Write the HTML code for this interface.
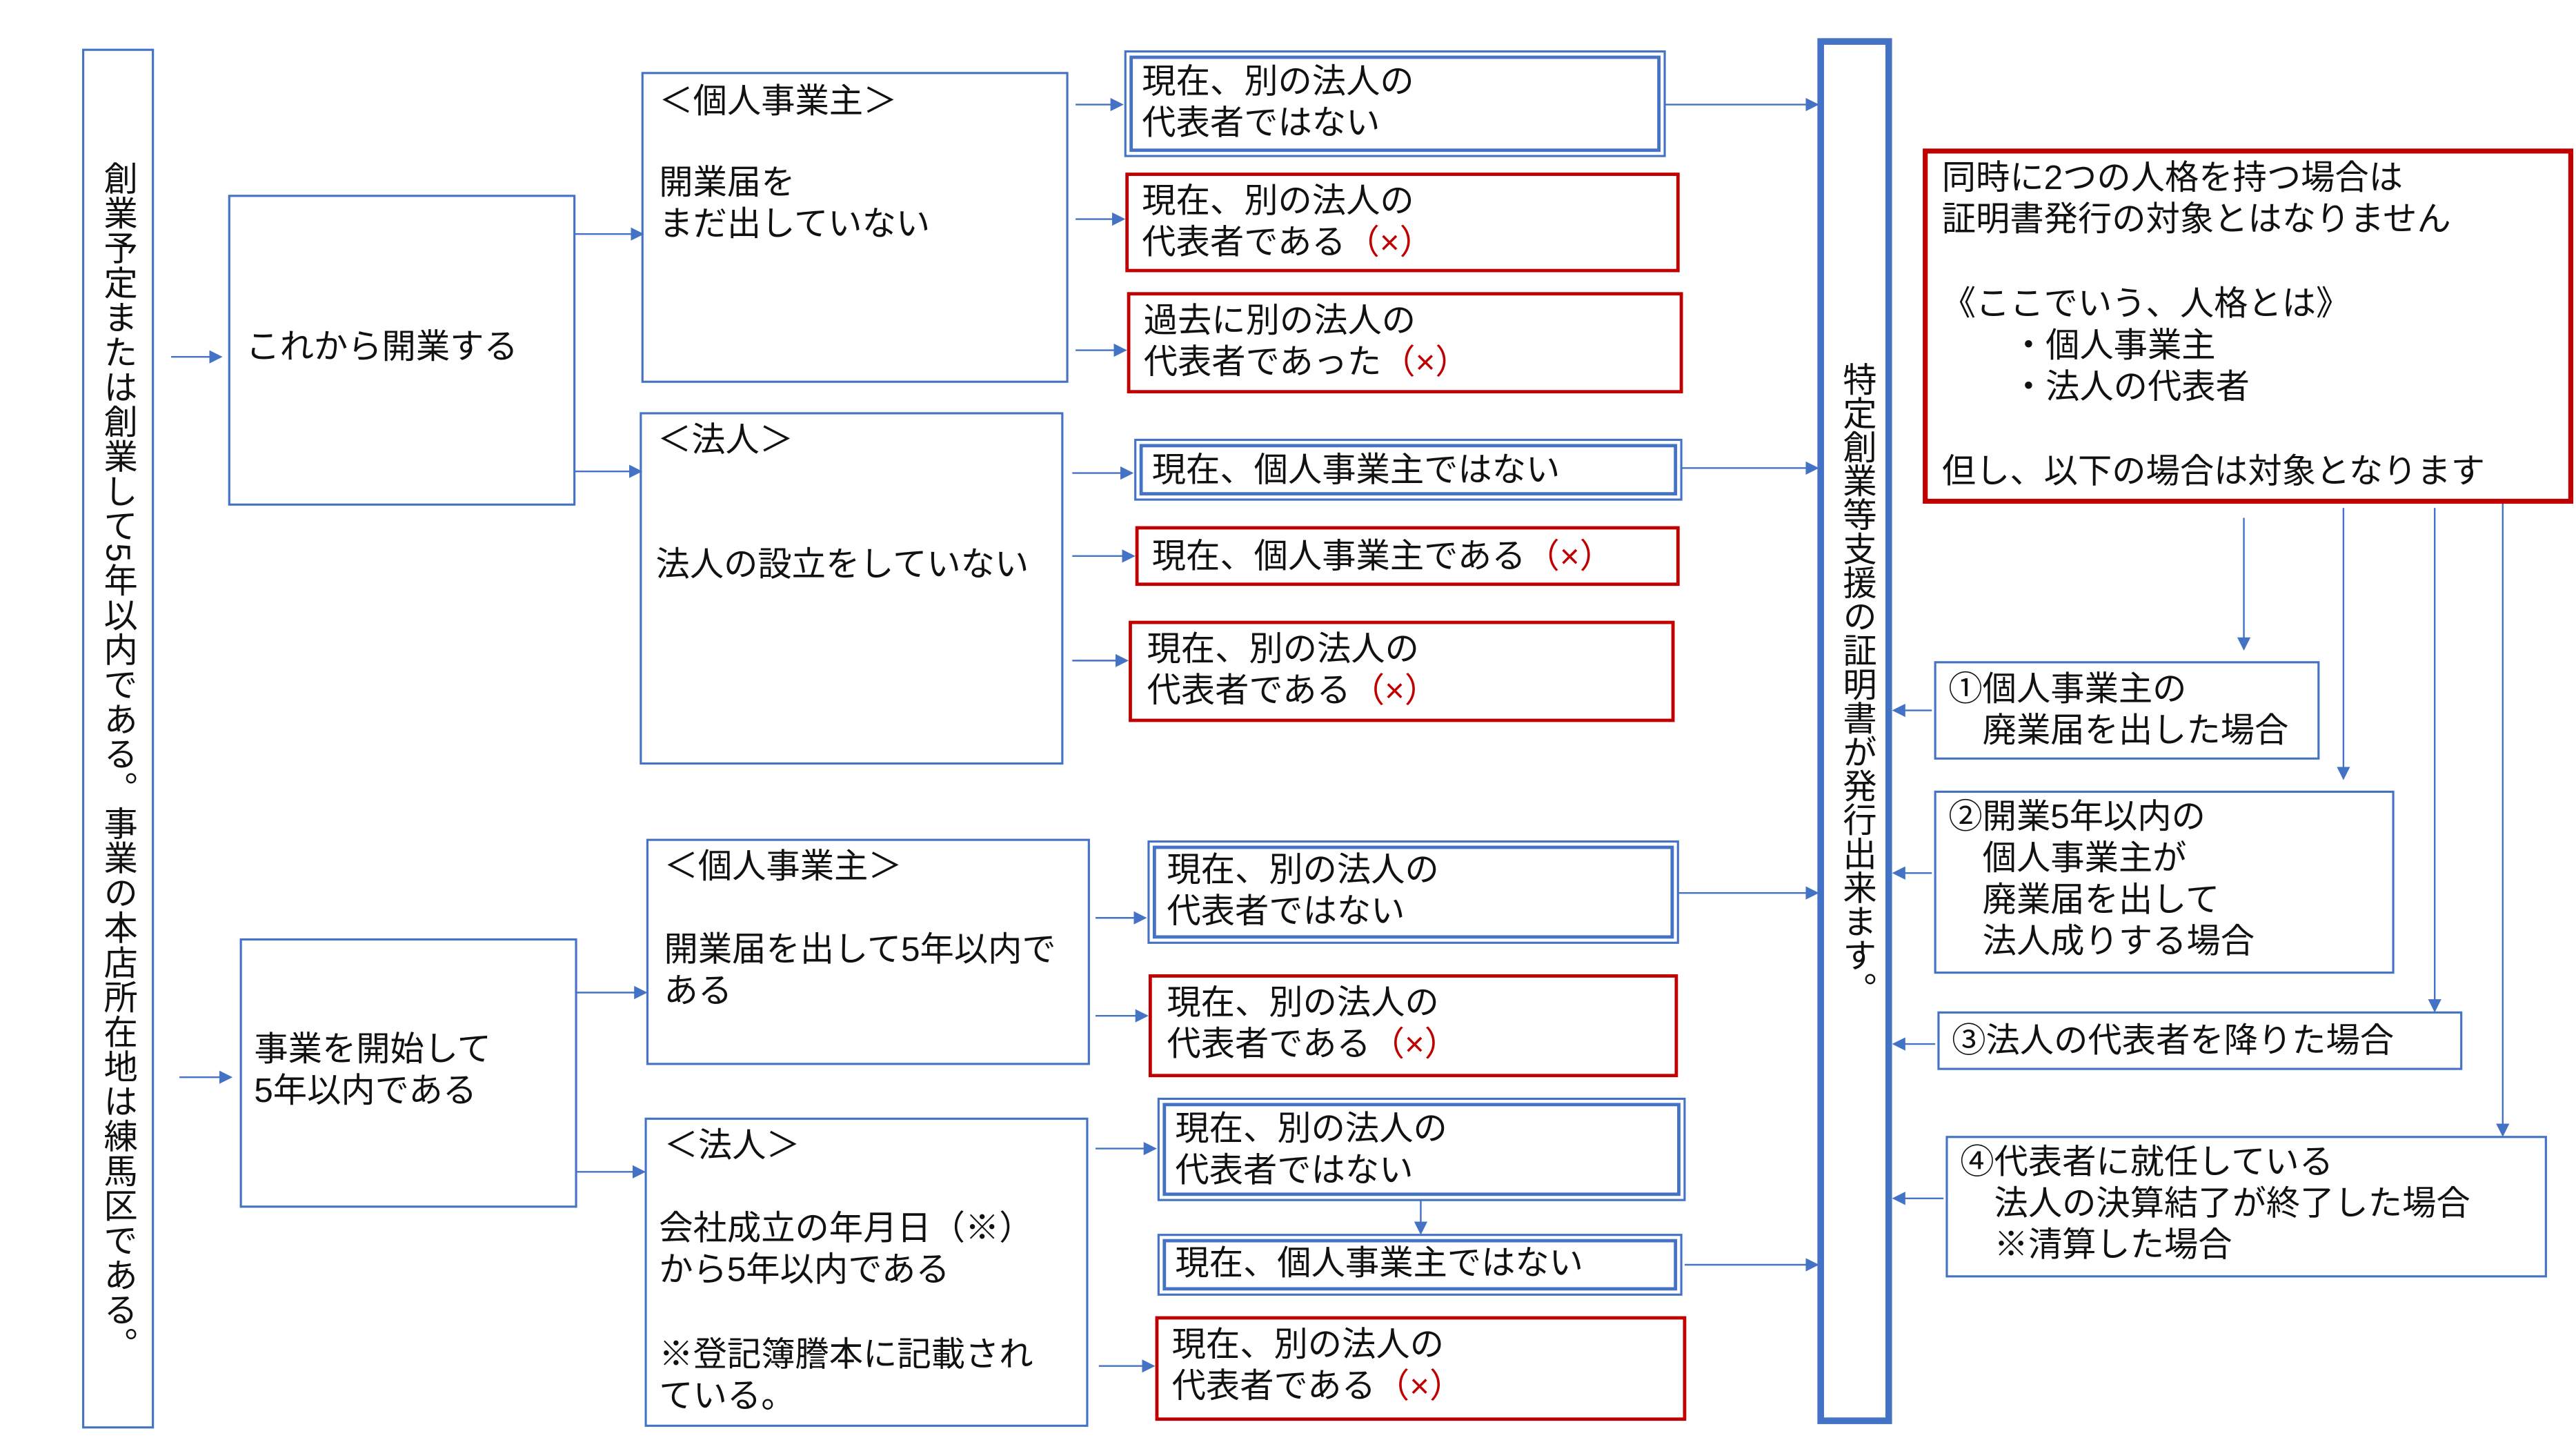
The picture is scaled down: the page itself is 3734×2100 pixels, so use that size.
<!DOCTYPE html>
<html><head><meta charset="utf-8"><style>
html,body{margin:0;padding:0;background:#fff;}
svg{display:block;}
text{font-family:"Liberation Sans","Noto Sans CJK JP",sans-serif;font-size:20.5px;fill:#111;dominant-baseline:central;}
.r{fill:#C00000;}
</style></head><body>
<svg width="3734" height="2100" viewBox="0 0 1552 873" xmlns="http://www.w3.org/2000/svg">
<defs>
<marker id="a" markerWidth="8" markerHeight="8" refX="7" refY="4" orient="auto" markerUnits="userSpaceOnUse"><path d="M0,0 L8,4 L0,8 z" fill="#4472C4"/></marker>
</defs>
<g fill="none" stroke="#4472C4" stroke-width="1.3">
<rect x="50" y="30" width="42" height="830"/>
<rect x="138" y="118" width="208" height="186"/>
<rect x="387" y="44" width="256" height="186"/>
<rect x="386" y="249" width="254" height="211"/>
<rect x="145" y="566" width="202" height="161"/>
<rect x="390" y="506" width="266" height="135"/>
<rect x="389" y="674" width="266" height="185"/>
<rect x="1166" y="399" width="231" height="58"/>
<rect x="1166" y="477" width="276" height="109"/>
<rect x="1168" y="610" width="315" height="34"/>
<rect x="1173" y="685" width="361" height="84"/>
<rect x="678" y="31" width="325" height="63"/><rect x="681.5" y="34.5" width="318" height="56" stroke-width="2"/>
<rect x="684" y="265" width="329" height="36"/><rect x="687.5" y="268.5" width="322" height="29" stroke-width="2"/>
<rect x="692" y="507" width="319" height="61"/><rect x="695.5" y="510.5" width="312" height="54" stroke-width="2"/>
<rect x="698" y="662" width="317" height="61"/><rect x="701.5" y="665.5" width="310" height="54" stroke-width="2"/>
<rect x="698" y="744" width="315" height="36"/><rect x="701.5" y="747.5" width="308" height="29" stroke-width="2"/>
<rect x="1097" y="25" width="41" height="831" stroke-width="4"/>
<g marker-end="url(#a)" stroke-width="1">
<line x1="103" y1="215" x2="133" y2="215"/>
<line x1="346" y1="141" x2="387" y2="141"/>
<line x1="346" y1="284" x2="386" y2="284"/>
<line x1="648" y1="63" x2="676" y2="63"/>
<line x1="648" y1="132" x2="677" y2="132"/>
<line x1="648" y1="211" x2="678" y2="211"/>
<line x1="646" y1="285" x2="682" y2="285"/>
<line x1="646" y1="335" x2="683" y2="335"/>
<line x1="646" y1="398" x2="679" y2="398"/>
<line x1="1003" y1="63" x2="1095" y2="63"/>
<line x1="1013" y1="282" x2="1095" y2="282"/>
<line x1="1352" y1="312" x2="1352" y2="391"/>
<line x1="1412" y1="306" x2="1412" y2="469"/>
<line x1="1467" y1="306" x2="1467" y2="609"/>
<line x1="1508" y1="302" x2="1508" y2="684"/>
<line x1="1164" y1="428" x2="1141" y2="428"/>
<line x1="1164" y1="526" x2="1141" y2="526"/>
<line x1="1166" y1="629" x2="1141" y2="629"/>
<line x1="1171" y1="722" x2="1141" y2="722"/>
<line x1="108" y1="649" x2="139" y2="649"/>
<line x1="347" y1="598" x2="389" y2="598"/>
<line x1="347" y1="706" x2="388" y2="706"/>
<line x1="660" y1="553" x2="690" y2="553"/>
<line x1="660" y1="612" x2="691" y2="612"/>
<line x1="660" y1="692" x2="696" y2="692"/>
<line x1="662" y1="823" x2="695" y2="823"/>
<line x1="856" y1="723" x2="856" y2="743"/>
<line x1="1011" y1="538" x2="1095" y2="538"/>
<line x1="1015" y1="762" x2="1095" y2="762"/>
</g>
</g>
<g fill="none" stroke="#C00000" stroke-width="2">
<rect x="679" y="105" width="332" height="58"/>
<rect x="680" y="177" width="333" height="59"/>
<rect x="685" y="318" width="326" height="34"/>
<rect x="681" y="375" width="327" height="59"/>
<rect x="693" y="588" width="317" height="60"/>
<rect x="697" y="794" width="318" height="61"/>
<rect x="1160" y="91" width="389" height="211" stroke-width="3"/>
</g>
<text x="71" y="97" style="writing-mode:vertical-rl;dominant-baseline:central" textLength="723" lengthAdjust="spacing">創業予定または創業して5年以内である。事業の本店所在地は練馬区である。</text>
<text x="1119" y="218" style="writing-mode:vertical-rl;dominant-baseline:central" textLength="388" lengthAdjust="spacing">特定創業等支援の証明書が発行出来ます。</text>
<text x="148" y="209">これから開業する</text>
<text x="397" y="61">＜個人事業主＞</text>
<text x="397" y="110">開業届を</text>
<text x="397" y="135">まだ出していない</text>
<text x="396" y="265">＜法人＞</text>
<text x="395" y="340">法人の設立をしていない</text>
<text x="688" y="49">現在、別の法人の</text>
<text x="688" y="74">代表者ではない</text>
<text x="688" y="121">現在、別の法人の</text>
<text x="688" y="146">代表者である<tspan class="r">（×）</tspan></text>
<text x="689" y="193">過去に別の法人の</text>
<text x="689" y="218">代表者であった<tspan class="r">（×）</tspan></text>
<text x="694" y="283">現在、個人事業主ではない</text>
<text x="694" y="335">現在、個人事業主である<tspan class="r">（×）</tspan></text>
<text x="691" y="391">現在、別の法人の</text>
<text x="691" y="416">代表者である<tspan class="r">（×）</tspan></text>
<text x="1170" y="107">同時に2つの人格を持つ場合は</text>
<text x="1170" y="132">証明書発行の対象とはなりません</text>
<text x="1170" y="183">《ここでいう、人格とは》</text>
<text x="1212" y="208">・個人事業主</text>
<text x="1212" y="233">・法人の代表者</text>
<text x="1170" y="284">但し、以下の場合は対象となります</text>
<text x="1174" y="415">①個人事業主の</text>
<text x="1174" y="440">　廃業届を出した場合</text>
<text x="1174" y="492">②開業5年以内の</text>
<text x="1174" y="517">　個人事業主が</text>
<text x="1174" y="542">　廃業届を出して</text>
<text x="1174" y="567">　法人成りする場合</text>
<text x="1176" y="627">③法人の代表者を降りた場合</text>
<text x="1181" y="700">④代表者に就任している</text>
<text x="1181" y="725">　法人の決算結了が終了した場合</text>
<text x="1181" y="750">　※清算した場合</text>
<text x="153" y="632">事業を開始して</text>
<text x="153" y="657">5年以内である</text>
<text x="400" y="522">＜個人事業主＞</text>
<text x="400" y="572">開業届を出して5年以内で</text>
<text x="400" y="597">ある</text>
<text x="400" y="690">＜法人＞</text>
<text x="397" y="740">会社成立の年月日（※）</text>
<text x="397" y="765">から5年以内である</text>
<text x="397" y="816">※登記簿謄本に記載され</text>
<text x="397" y="841">ている。</text>
<text x="703" y="524">現在、別の法人の</text>
<text x="703" y="549">代表者ではない</text>
<text x="703" y="604">現在、別の法人の</text>
<text x="703" y="629">代表者である<tspan class="r">（×）</tspan></text>
<text x="708" y="680">現在、別の法人の</text>
<text x="708" y="705">代表者ではない</text>
<text x="708" y="761">現在、個人事業主ではない</text>
<text x="706" y="810">現在、別の法人の</text>
<text x="706" y="835">代表者である<tspan class="r">（×）</tspan></text>
</svg>
</body></html>
